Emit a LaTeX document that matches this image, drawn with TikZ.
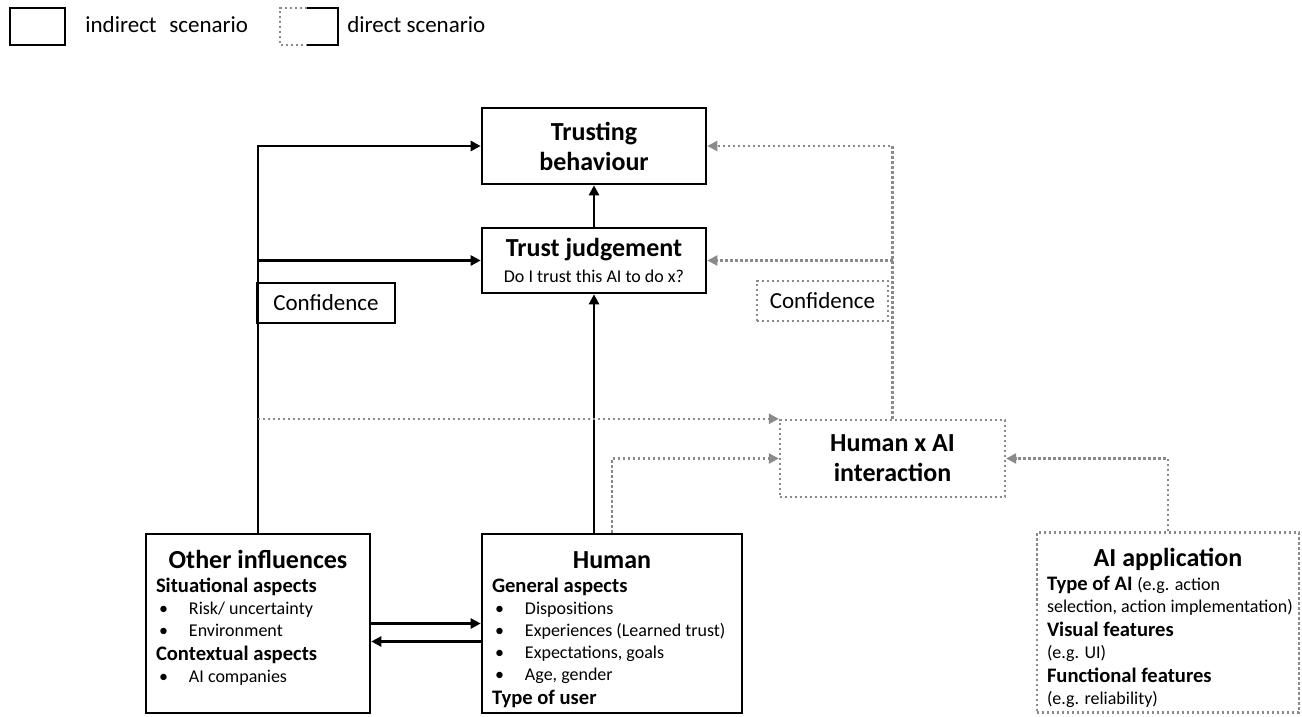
\documentclass[tikz,border=0pt]{standalone}
\usepackage{fontspec}
\setmainfont{Carlito}
\usepackage{xcolor}
\usepackage{tikz}
\usetikzlibrary{arrows.meta,positioning}

\definecolor{dotgray}{HTML}{8A8A8A}

\newcommand{\boxttl}[1]{{\centering\fontsize{13}{16}\selectfont\bfseries\rule{0pt}{11pt}#1\par}}
\newcommand{\boxhd}{\fontsize{10.3}{12}\selectfont\bfseries}
\newcommand{\boxbd}{\fontsize{9}{11}\selectfont\mdseries}
\newcommand{\boxitm}[1]{{\boxbd\hspace*{1.5pt}\makebox[15pt][l]{•}#1\par}}

\begin{document}
\begin{tikzpicture}[x=0.5pt,y=-0.5pt,
	solidbox/.style={draw,line width=1.3pt,inner sep=0pt,align=center},
	dotbox/.style={draw=dotgray,line width=1.2pt,dash pattern=on 1.2pt off 1.3pt,inner sep=0pt,align=center},
	infobox/.style={inner xsep=5pt,inner ysep=6pt},
	titlefont/.style={font=\fontsize{13}{15}\selectfont\bfseries},
	solidarrow/.style={line width=1.2pt,-{Triangle[length=5pt,width=5pt]}},
	dotarrow/.style={draw=dotgray,line width=1.2pt,dash pattern=on 1.2pt off 1.3pt,-{Triangle[length=5pt,width=5pt]}}
	]
\useasboundingbox (0,0) rectangle (1302,717);
%
% legend
\draw[line width=1.3pt] (10,8) rectangle (65,45);
\draw[line width=1.3pt] (307,8) -- (338,8) -- (338,45) -- (307,45);
\draw[draw=dotgray,line width=1.2pt,dash pattern=on 1.2pt off 1.3pt] (307,8) -- (280,8) -- (280,45) -- (307,45);
\node[anchor=base west,inner sep=0pt,font=\fontsize{11.5}{14}\selectfont] (indirect) at (85,33) {indirect\hspace{0.55em}scenario};
\node[anchor=base west,inner sep=0pt,font=\fontsize{11.5}{14}\selectfont] (direct) at (347,33) {direct scenario};
%
% boxes
\node[solidbox,titlefont,minimum width=112pt,minimum height=38pt] (behav) at (594,146) {Trusting\\behaviour};
\node[solidbox,titlefont,minimum width=112pt,minimum height=32.5pt] (judge) at (594,260.5)
	{Trust judgement\\[-2pt]{\fontsize{9}{11}\selectfont\mdseries Do I trust this AI to do x?}};
\node[solidbox,font=\fontsize{11.5}{14}\selectfont,minimum width=69pt,minimum height=20pt] (confl) at (326,303) {Confidence};
\node[dotbox,font=\fontsize{11.5}{14}\selectfont,minimum width=65.5pt,minimum height=20pt] (confr) at (822.5,301) {Confidence};
\node[dotbox,titlefont,minimum width=112.5pt,minimum height=38.5pt] (hxai) at (892.5,458.5) {Human x AI\\interaction};
%
\node[solidbox,infobox] (other) at (258,623.5) {\parbox[c][77.5pt][t]{102pt}{\raggedright
	\boxttl{Other influences}
	{\boxhd Situational aspects\par}
	\boxitm{Risk/ uncertainty}
	\boxitm{Environment}
	{\boxhd Contextual aspects\par}
	\boxitm{AI companies}}};
\node[solidbox,infobox] (human) at (612,623.5) {\parbox[c][77.5pt][t]{120pt}{\raggedright
	\boxttl{Human}
	{\boxhd General aspects\par}
	\boxitm{Dispositions}
	\boxitm{Experiences (Learned trust)}
	\boxitm{Expectations, goals}
	\boxitm{Age, gender}
	{\boxhd Type of user\par}}};
\node[dotbox,infobox] (aiapp) at (1168,622.5) {\parbox[c][78pt][t]{121pt}{\raggedright
	\boxttl{AI application}
	{\boxhd Type of AI {\boxbd(e.g. action}\par}
	{\boxbd\mbox{selection, action implementation)}\par}
	{\boxhd Visual features\par}
	{\boxbd (e.g. UI)\par}
	{\boxhd Functional features\par}
	{\boxbd (e.g. reliability)\par}}};
%
% indirect links
\draw[solidarrow] (judge) -- (behav);
\draw[solidarrow] (other.north) |- (behav.west);
\draw[solidarrow] (other.north |- judge.west) -- (judge.west);
\draw[solidarrow] (judge.south |- human.north) -- (judge.south);
\draw[solidarrow] (other.east) -- (other.east -| human.west);
\draw[solidarrow] ([yshift=-9pt]human.west) -- ([yshift=-9pt]human.west -| other.east);
%
% direct links
\draw[dotarrow] (other.north |- hxai.north west) -- (hxai.north west);
\draw[dotarrow] (human.north) |- (hxai.west);
\draw[dotarrow] (aiapp.north) |- (hxai.east);
\draw[dotarrow] (hxai.north) |- (behav.east);
\draw[dotarrow] (hxai.north |- judge.east) -- (judge.east);
\end{tikzpicture}
\end{document}
